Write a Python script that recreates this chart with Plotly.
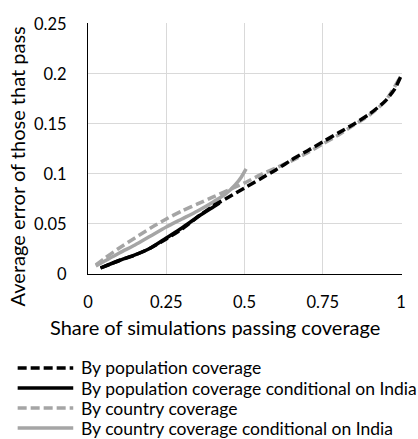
import plotly.graph_objects as go

# Share of simulations passing coverage (x) vs. average error of those that pass (y)
pop_x = [0.04, 0.1, 0.15, 0.2, 0.25, 0.3, 0.35, 0.4, 0.45, 0.5, 0.55, 0.6, 0.65, 0.7,
         0.75, 0.8, 0.85, 0.9, 0.95, 0.98, 1.0]
pop_y = [0.006, 0.0135, 0.019, 0.026, 0.035, 0.045, 0.057, 0.068, 0.077, 0.086, 0.095,
         0.104, 0.114, 0.123, 0.132, 0.141, 0.150, 0.160, 0.173, 0.185, 0.198]

pop_india_x = [0.04, 0.1, 0.15, 0.2, 0.25, 0.3, 0.35, 0.4, 0.42]
pop_india_y = [0.006, 0.0135, 0.019, 0.026, 0.036, 0.046, 0.057, 0.067, 0.071]

country_x = [0.025, 0.05, 0.1, 0.15, 0.2, 0.25, 0.3, 0.35, 0.4, 0.45, 0.5, 0.55, 0.6,
             0.65, 0.7, 0.75, 0.8, 0.85, 0.9, 0.95, 1.0]
country_y = [0.009, 0.015, 0.026, 0.036, 0.046, 0.055, 0.063, 0.070, 0.077, 0.084, 0.091,
             0.099, 0.106, 0.113, 0.121, 0.130, 0.139, 0.149, 0.159, 0.173, 0.198]

country_india_x = [0.025, 0.1, 0.15, 0.2, 0.25, 0.3, 0.35, 0.4, 0.44, 0.47, 0.49, 0.505]
country_india_y = [0.008, 0.021, 0.029, 0.038, 0.047, 0.055, 0.063, 0.072, 0.080, 0.089,
                   0.097, 0.105]

names = [
    "By population coverage",
    "By population coverage conditional on India",
    "By country coverage",
    "By country coverage conditional on India",
]

x_ticks = [0, 0.25, 0.5, 0.75, 1]
x_tick_text = ["0", "0.25", "0.5", "0.75", "1"]
y_ticks = [0, 0.05, 0.1, 0.15, 0.2, 0.25]
y_tick_text = ["0", "0.05", "0.1", "0.15", "0.2", "0.25"]

BLACK = "#000000"
GREY = "#a5a5a5"
FONT = "Lato"
DASH = "9px,4px"
LW = 3.5

series = [
    (pop_x, pop_y, BLACK, DASH),
    (pop_india_x, pop_india_y, BLACK, "solid"),
    (country_x, country_y, GREY, DASH),
    (country_india_x, country_india_y, GREY, "solid"),
]

fig = go.Figure()
# conditional curves go underneath the full-coverage curves where they overlap
for idx in [3, 1, 2, 0]:
    xs, ys, col, dash = series[idx]
    fig.add_trace(go.Scatter(
        x=xs, y=ys, mode="lines", name=names[idx], showlegend=False,
        line=dict(color=col, width=LW, dash=dash, shape="spline", smoothing=0.6),
    ))

# legend below the chart: long line samples followed by the series names
shapes = []
annotations = []
leg_top = -0.3745      # first row, in plot-area fractions
leg_step = 0.0797      # row spacing
for i, (xs, ys, col, dash) in enumerate(series):
    yy = leg_top - i * leg_step
    shapes.append(dict(type="line", xref="paper", yref="paper",
                       x0=-0.224, x1=-0.047, y0=yy, y1=yy,
                       line=dict(color=col, width=LW, dash=dash)))
    annotations.append(dict(text=names[i], xref="paper", yref="paper",
                            x=-0.03, y=yy, xanchor="left", yanchor="middle",
                            showarrow=False, font=dict(family=FONT, size=17.5)))

annotations += [
    dict(text="Share of simulations passing coverage", xref="paper", yref="paper",
         x=0.405, y=-0.211, xanchor="center", yanchor="middle", showarrow=False,
         font=dict(family=FONT, size=20)),
    dict(text="Average error of those that pass", xref="paper", yref="paper",
         x=-0.225, y=0.43, xanchor="center", yanchor="middle", showarrow=False,
         textangle=-90, font=dict(family=FONT, size=20)),
]

fig.update_layout(
    width=418, height=439,
    margin=dict(l=88, r=13, t=23, b=165),
    paper_bgcolor="white", plot_bgcolor="white",
    font=dict(family=FONT, size=16, color="#000000"),
    showlegend=False,
    shapes=shapes,
    annotations=annotations,
    xaxis=dict(
        range=[0, 1.003], tickvals=x_ticks, ticktext=x_tick_text,
        showgrid=True, gridcolor="#d9d9d9", gridwidth=1,
        showline=True, linecolor="#000000", linewidth=1.3,
        zeroline=False, ticks="", ticklabelstandoff=13,
        tickfont=dict(family=FONT, size=16.5),
    ),
    yaxis=dict(
        range=[0, 0.2508], tickvals=y_ticks, ticktext=y_tick_text,
        showgrid=True, gridcolor="#d9d9d9", gridwidth=1,
        showline=True, linecolor="#000000", linewidth=1.3,
        zeroline=False, ticks="", ticklabelstandoff=17,
        tickfont=dict(family=FONT, size=16.5),
    ),
)

fig.write_html("out.html")
